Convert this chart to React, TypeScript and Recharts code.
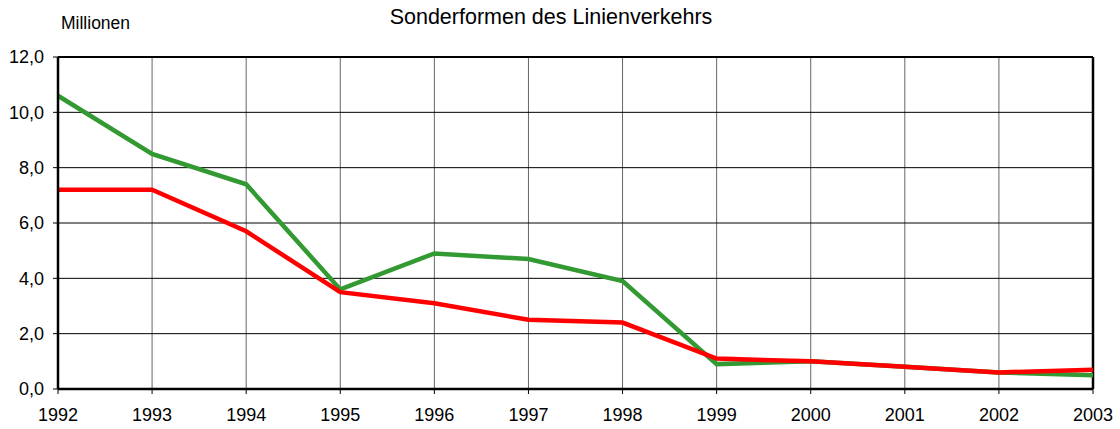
import React from 'react';
import { LineChart, Line, XAxis, YAxis, CartesianGrid, ReferenceLine } from 'recharts';

// Jahre und Werte (Millionen)
const years = ['1992', '1993', '1994', '1995', '1996', '1997', '1998', '1999', '2000', '2001', '2002', '2003'];
const greenValues = [10.6, 8.5, 7.4, 3.6, 4.9, 4.7, 3.9, 0.9, 1.0, 0.8, 0.6, 0.5];
const redValues = [7.2, 7.2, 5.7, 3.5, 3.1, 2.5, 2.4, 1.1, 1.0, 0.8, 0.6, 0.7];
const yTicks = [0, 2, 4, 6, 8, 10, 12];

const data = years.map((year, i) => ({ year, green: greenValues[i], red: redValues[i] }));

const font = '"Liberation Sans", Arial, sans-serif';

const formatY = (v: number) => v.toFixed(1).replace('.', ',');

const App: React.FC = () => {
  return (
    <div style={{ position: 'absolute', left: 0, top: 0, width: 1120, height: 429, background: '#fff', fontFamily: font }}>
      <div style={{ position: 'absolute', left: 0, width: 1102, top: 5, textAlign: 'center', fontSize: 21.5, color: '#000' }}>
        Sonderformen des Linienverkehrs
      </div>
      <div style={{ position: 'absolute', left: 61, top: 13, fontSize: 17.5, color: '#000' }}>Millionen</div>
      <LineChart width={1120} height={429} data={data} margin={{ top: 57, right: 27, left: 0, bottom: 0 }}>
        <CartesianGrid horizontal={false} stroke="#666" />
        <CartesianGrid vertical={false} stroke="#000" />
        <XAxis
          dataKey="year"
          axisLine={{ stroke: '#000', strokeWidth: 2.5 }}
          tickLine={{ stroke: '#000' }}
          tickSize={5}
          tickMargin={14}
          tick={{ fontSize: 18, fill: '#000', fontFamily: font }}
          interval={0}
          height={40}
        />
        <YAxis
          domain={[0, 12]}
          ticks={yTicks}
          width={58}
          axisLine={{ stroke: '#000', strokeWidth: 2.5 }}
          tickLine={{ stroke: '#000' }}
          tickSize={5}
          tickMargin={9}
          tickFormatter={formatY}
          tick={{ fontSize: 18, fill: '#000', fontFamily: font }}
          interval={0}
        />
        <ReferenceLine y={12} stroke="#000" strokeWidth={2} />
        <ReferenceLine x="2003" stroke="#000" strokeWidth={2.5} />
        <Line type="linear" dataKey="green" stroke="#339933" strokeWidth={4.5} dot={false} isAnimationActive={false} />
        <Line type="linear" dataKey="red" stroke="#ff0000" strokeWidth={4.5} dot={false} isAnimationActive={false} />
      </LineChart>
    </div>
  );
};

export default App;
